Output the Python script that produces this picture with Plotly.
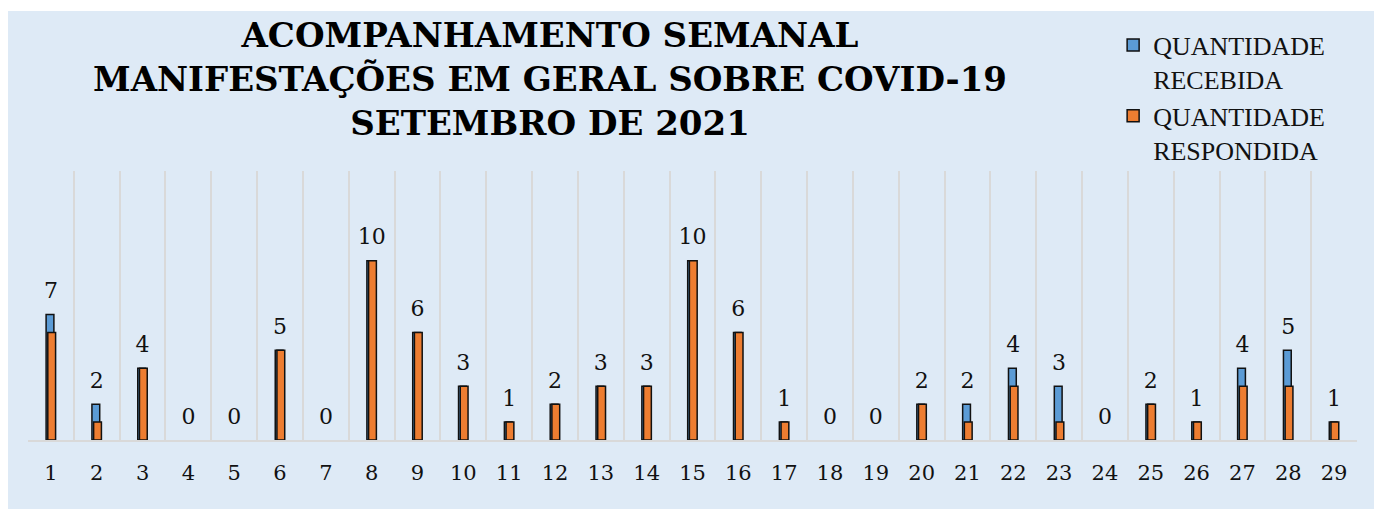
import plotly.graph_objects as go

days = list(range(1, 30))
tick_labels = [str(d) for d in days]
recebida = [7, 2, 4, 0, 0, 5, 0, 10, 6, 3, 1, 2, 3, 3, 10, 6, 1, 0, 0, 2, 2, 4, 3, 0, 2, 1, 4, 5, 1]
respondida = [6, 1, 4, 0, 0, 5, 0, 10, 6, 3, 1, 2, 3, 3, 10, 6, 1, 0, 0, 2, 1, 3, 1, 0, 2, 1, 3, 3, 1]

title_lines = ["ACOMPANHAMENTO SEMANAL",
               "MANIFESTAÇÕES EM GERAL SOBRE COVID-19",
               "SETEMBRO DE 2021"]
name_rec = "QUANTIDADE<br>RECEBIDA"
name_resp = "QUANTIDADE<br>RESPONDIDA"

BG = "#DEEAF6"
NUM_FONT = "Georgia, 'DejaVu Serif', serif"
TITLE_FONT = "Georgia, 'DejaVu Serif', serif"


def outline(values):
    # no outline drawn for empty (zero) bars
    return [1.5 if v > 0 else 0 for v in values]


fig = go.Figure()
fig.add_trace(go.Bar(
    x=days, y=recebida, name=name_rec,
    width=0.17, offset=-0.105,
    marker=dict(color="#5B9BD5", line=dict(color="#111111", width=outline(recebida))),
))
fig.add_trace(go.Bar(
    x=days, y=respondida, name=name_resp,
    width=0.17, offset=-0.068,
    marker=dict(color="#ED7D31", line=dict(color="#111111", width=outline(respondida))),
))
fig.add_trace(go.Scatter(
    x=days, y=recebida, mode="markers+text", text=[str(v) for v in recebida],
    textposition="top center", showlegend=False, hoverinfo="skip",
    marker=dict(size=16, color="rgba(0,0,0,0)"),
    textfont=dict(family=NUM_FONT, size=22, color="#111111"),
))

fig.update_layout(
    width=1382, height=509,
    margin=dict(l=20, r=33, t=163, b=77),
    paper_bgcolor=BG,
    plot_bgcolor="rgba(0,0,0,0)",
    barmode="overlay",
    showlegend=True,
    legend=dict(
        x=0.8165, y=1.555, xref="paper", yref="paper",
        xanchor="left", yanchor="top", valign="top",
        font=dict(family="'Liberation Serif', serif", size=26, color="#111111"),
        bgcolor="rgba(0,0,0,0)",
        itemwidth=30,
    ),
    xaxis=dict(
        range=[0.5, 29.5], tickmode="array", tickvals=days, ticktext=tick_labels,
        showgrid=False, zeroline=False,
        showline=True, linecolor="#D9D9D9", linewidth=2,
        ticks="", ticklabelstandoff=13,
        tickfont=dict(family=NUM_FONT, size=21, color="#111111"),
        minor=dict(tick0=0.5, dtick=1, showgrid=True, gridcolor="#D9D9D9", gridwidth=2),
    ),
    yaxis=dict(
        range=[0, 15], showgrid=False, zeroline=False, showticklabels=False,
        showline=False,
    ),
    annotations=[dict(
        text="<br>".join(title_lines), showarrow=False,
        xref="paper", yref="paper", x=0.393, y=1.587,
        xanchor="center", yanchor="top", align="center",
        font=dict(family=TITLE_FONT, size=34, color="#000000", weight="bold"),
    )],
    shapes=[dict(
        type="rect", xref="paper", yref="paper",
        x0=-0.1, x1=1.1, y0=1.595, y1=1.62,
        fillcolor="white", line=dict(width=0), layer="below",
    )],
)

fig.write_html("out.html")
